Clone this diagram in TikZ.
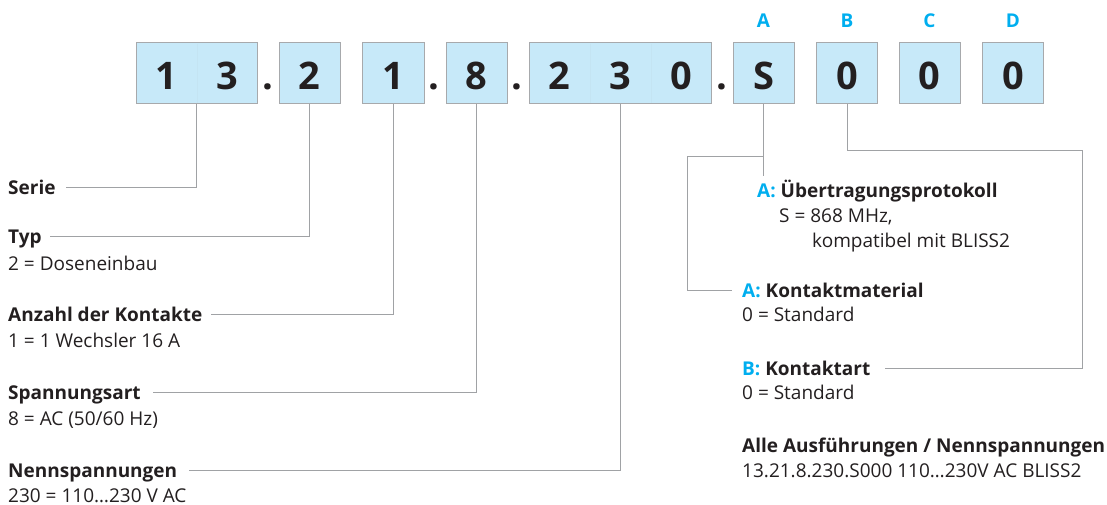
\documentclass[tikz,border=0pt]{standalone}
\usepackage{fontspec}
\setmainfont{Open Sans}
\usetikzlibrary{calc}

\definecolor{boxfill}{HTML}{C7E9F9}
\definecolor{boxline}{HTML}{A7A9AC}
\definecolor{leadline}{HTML}{A0A2A5}
\definecolor{keyblue}{HTML}{00AEEF}
\definecolor{ink}{HTML}{231F20}

\begin{document}
\begin{tikzpicture}[x=1pt,y=-1pt,
  cell/.style={draw=boxline, line width=1pt, fill=boxfill, minimum height=61pt, inner sep=0pt},
  digit/.style={anchor=base, inner sep=0pt, text=ink, font=\fontsize{38}{38}\selectfont\bfseries},
  keyletter/.style={anchor=base, inner sep=0pt, text=keyblue, font=\fontsize{19}{19}\selectfont\bfseries},
  lbltitle/.style={anchor=base west, inner sep=0pt, text height=13pt, text depth=0pt, text=ink, font=\fontsize{19}{19}\selectfont\bfseries},
  desc/.style={anchor=base west, inner sep=0pt, text=ink, font=\fontsize{19}{19}\selectfont},
  lead/.style={draw=leadline, line width=0.8pt}]
  \useasboundingbox (0,0) rectangle (1107,505);

  % code boxes
  \node[cell, minimum width=121pt] (b13) at (196.5,73.5) {};
  \node[cell, minimum width=61pt] (b2) at (309.5,73.5) {};
  \node[cell, minimum width=62pt] (b1) at (393,73.5) {};
  \node[cell, minimum width=61pt] (b8) at (476.5,73.5) {};
  \node[cell, minimum width=182pt] (b230) at (620,73.5) {};
  \node[cell, minimum width=61pt] (bS) at (763.5,73.5) {};
  \foreach \n/\x in {bB/847, bC/929.5, bD/1013}
    \node[cell, minimum width=61pt] (\n) at (\x,73.5) {};
  \foreach \x in {197,590,651}
    \draw[boxfill!92!boxline, line width=0.5pt] (\x,44) -- (\x,103);

  \foreach \x/\d [count=\i] in {166.5/1,227.5/3,309.5/2,393/1,476.5/8,559.5/2,620.5/3,681/0,763.5/S,847/0,929.5/0,1013/0}
    \node[digit] (d\i) at (\x,90) {\d};
  \foreach \x [count=\i] in {268,434,517,722}
    \node[digit] (dot\i) at (\x,90) {.};
  \foreach \n/\l in {bS/A, bB/B, bC/C, bD/D}
    \node[keyletter] (k\l) at ($(\n.north)+(0,-15)$) {\l};

  % left side
  \node[lbltitle] (serie) at (8,194) {Serie};
  \node[lbltitle] (typ) at (8,243) {Typ};
  \node[desc] (typd) at (8,270) {2 = Doseneinbau};
  \node[lbltitle] (anz) at (8,321) {Anzahl der Kontakte};
  \node[desc] (anzd) at (8,347) {1 = 1 Wechsler 16 A};
  \node[lbltitle] (spa) at (8,399) {Spannungsart};
  \node[desc] (spad) at (8,425) {8 = AC (50/60 Hz)};
  \node[lbltitle] (nen) at (8,477) {Nennspannungen};
  \node[desc] (nend) at (8,502) {230 = 110…230 V AC};

  % right side
  \node[lbltitle] (ueb) at (757,197) {\textcolor{keyblue}{A:} Übertragungsprotokoll};
  \node[desc] (uebd) at (779,222) {S = 868 MHz,};
  \node[desc] (uebd2) at (812,247) {kompatibel mit BLISS2};
  \node[lbltitle] (kmat) at (742,297) {\textcolor{keyblue}{A:} Kontaktmaterial};
  \node[desc] (kmatd) at (742,321) {0 = Standard};
  \node[lbltitle] (kart) at (742,375) {\textcolor{keyblue}{B:} Kontaktart};
  \node[desc] (kartd) at (742,399) {0 = Standard};
  \node[lbltitle] (alle) at (742,452) {Alle Ausführungen / Nennspannungen};
  \node[desc] (alled) at (742,477) {13.21.8.230.S000 110…230V AC BLISS2};

  % leader lines
  \draw[lead] (b13.south) |- ([xshift=10pt]serie.east);
  \draw[lead] (b2.south) |- ([xshift=8pt]typ.east);
  \draw[lead] (b1.south) |- ([xshift=8pt]anz.east);
  \draw[lead] (b8.south) |- ([xshift=12pt]spa.east);
  \draw[lead] (b230.south) |- ([xshift=12pt]nen.east);
  \coordinate (sTip) at ($(bS.south |- ueb.north)+(0,-8)$);
  \coordinate (sFork) at ($(bS.south)+(0,52)$);
  \draw[lead] (bS.south) -- (sTip);
  \draw[lead] (sFork) -| ($(kmat.west)+(-55,0)$) -- ($(kmat.west)+(-10,0)$);
  \draw[lead] (bB.south) |- ($(bB.south)+(235,46)$) |- ($(kart.east)+(14,0)$);
\end{tikzpicture}
\end{document}
